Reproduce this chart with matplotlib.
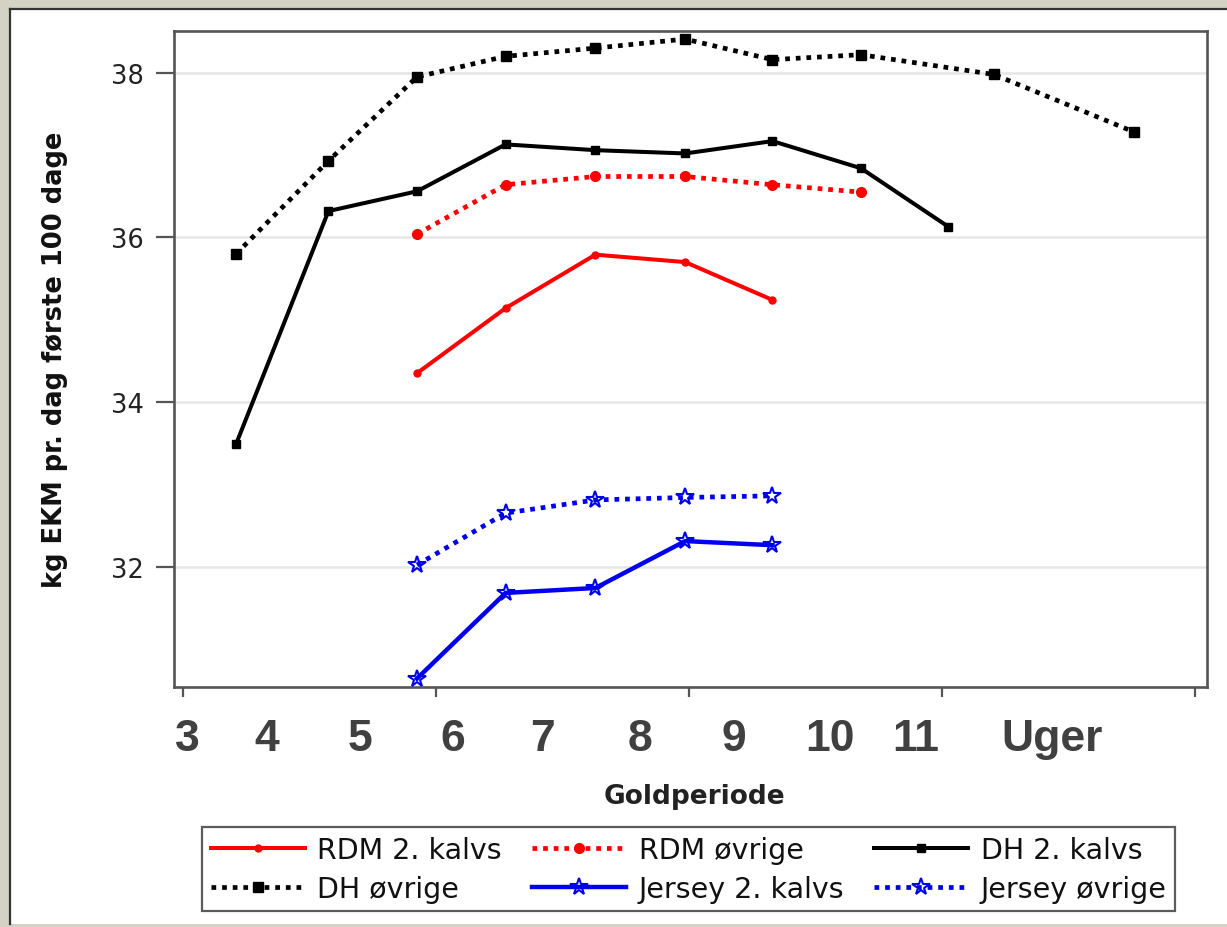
import matplotlib
matplotlib.use("Agg")
import matplotlib.pyplot as plt
from matplotlib.patches import Rectangle
from matplotlib.lines import Line2D

# ---------------- data ----------------
# x positions of the points (days of dry period, axis ticks every 20 days)
dh_ovr_x = [24.2, 31.5, 38.5, 45.5, 52.6, 59.7, 66.6, 73.6, 84.1, 95.2]
dh_ovr_y = [35.80, 36.93, 37.95, 38.20, 38.30, 38.41, 38.16, 38.22, 37.98, 37.28]

dh_2k_x = [24.2, 31.5, 38.5, 45.5, 52.6, 59.7, 66.6, 73.6, 80.5]
dh_2k_y = [33.49, 36.32, 36.56, 37.13, 37.06, 37.02, 37.17, 36.84, 36.13]

rdm_ovr_x = [38.5, 45.5, 52.6, 59.7, 66.6, 73.6]
rdm_ovr_y = [36.04, 36.64, 36.74, 36.74, 36.64, 36.55]

rdm_2k_x = [38.5, 45.5, 52.6, 59.7, 66.6]
rdm_2k_y = [34.35, 35.14, 35.79, 35.70, 35.24]

jer_ovr_x = [38.5, 45.5, 52.6, 59.7, 66.6]
jer_ovr_y = [32.02, 32.65, 32.81, 32.84, 32.86]

jer_2k_x = [38.5, 45.5, 52.6, 59.7, 66.6]
jer_2k_y = [30.64, 31.68, 31.74, 32.31, 32.26]

y_ticks = [32, 34, 36, 38]
x_ticks = [20, 40, 60, 80, 100]
week_labels = ["3", "4", "5", "6", "7", "8", "9", "10", "11", "Uger"]

# ---------------- figure ----------------
W, H = 1227, 928
fig = plt.figure(figsize=(W / 100, H / 100), dpi=100, facecolor="#d4d1c5")

# white slide panel (behind everything)
fig.patches.append(Rectangle((10 / W, 3 / H), 1 - 10 / W, (H - 9.5 - 3) / H,
                             transform=fig.transFigure, facecolor="white",
                             edgecolor="none", zorder=-5))
fig.add_artist(Line2D([10 / W, 1], [1 - 9.5 / H, 1 - 9.5 / H], transform=fig.transFigure,
                      color="#333333", lw=1.6, zorder=-4))
fig.add_artist(Line2D([10 / W, 10 / W], [3 / H, 1 - 9.5 / H], transform=fig.transFigure,
                      color="#333333", lw=1.6, zorder=-4))

left, right = 174 / W, 1207 / W
top, bottom = 1 - 31.5 / H, 1 - 688 / H
ax = fig.add_axes([left, bottom, right - left, top - bottom])
ax.set_zorder(2)
ax.set_facecolor("white")

lw_solid = 2.9
lw_dot = 3.4
dot = (0, (1.0, 1.25))

ax.plot(rdm_2k_x, rdm_2k_y, color="#ff0000", lw=lw_solid, ls="-",
        marker="o", ms=5, label="RDM 2. kalvs", zorder=3)
ax.plot(rdm_ovr_x, rdm_ovr_y, color="#ff0000", lw=lw_dot, ls=dot,
        marker="o", ms=7, label="RDM øvrige", zorder=3)
ax.plot(dh_2k_x, dh_2k_y, color="black", lw=lw_solid, ls="-",
        marker="s", ms=6, label="DH 2. kalvs", zorder=3)
ax.plot(dh_ovr_x, dh_ovr_y, color="black", lw=lw_dot, ls=dot,
        marker="s", ms=7, label="DH øvrige", zorder=3)
ax.plot(jer_2k_x, jer_2k_y, color="#0000ee", lw=lw_solid + 0.3, ls="-",
        marker="*", ms=13, mfc="none", mew=1.5, label="Jersey 2. kalvs", zorder=3)
ax.plot(jer_ovr_x, jer_ovr_y, color="#0000ee", lw=lw_dot, ls=dot,
        marker="*", ms=13, mfc="none", mew=1.5, label="Jersey øvrige", zorder=3)

ax.set_xlim(19.29, 100.95)
ax.set_ylim(30.537, 38.514)
ax.set_xticks(x_ticks)
ax.set_xticklabels([""] * len(x_ticks))
ax.set_yticks(y_ticks)
ax.set_yticklabels([str(v) for v in y_ticks], fontsize=18.5, color="#222222")
ax.tick_params(axis="x", direction="out", length=7, width=1.6, color="#555555")
ax.tick_params(axis="y", direction="out", length=13, width=1.6, color="#555555", pad=8.5)
ax.grid(axis="y", color="#e6e6e6", lw=1.8, zorder=0)
ax.set_axisbelow(True)
for s in ax.spines.values():
    s.set_color("#555555")
    s.set_linewidth(1.9)

ax.set_ylabel("kg EKM pr. dag første 100 dage", fontsize=18.5, fontweight="bold",
              color="#111111", labelpad=31)

# big week labels below the axis
week_px = [187, 267, 360, 453, 542, 640, 734, 830, 916, 1052]
for lab, px in zip(week_labels, week_px):
    fig.text(px / W, 1 - 740 / H, lab, ha="center", va="center",
             fontsize=32, fontweight="bold", color="#404040",
             family=["Liberation Sans", "DejaVu Sans"])

fig.text(694 / W, 1 - 797 / H, "Goldperiode", ha="center", va="center",
         fontsize=19, fontweight="bold", color="#222222")

# legend: row-wise order via column-major fill
h, l = ax.get_legend_handles_labels()
order = [0, 3, 1, 4, 2, 5]
leg = fig.legend([h[i] for i in order], [l[i] for i in order],
                 loc="upper left", bbox_to_anchor=(202 / W, 1 - 828 / H),
                 ncol=3, fontsize=20.5, frameon=True, fancybox=False,
                 edgecolor="#333333", handlelength=3.3, handletextpad=0.45,
                 columnspacing=1.05, labelspacing=0.4, borderpad=0.3,
                 borderaxespad=0, numpoints=1)
leg.get_frame().set_linewidth(1.6)
for t in leg.get_texts():
    t.set_color("#111111")

fig.savefig("out.png", dpi=100, facecolor=fig.get_facecolor())
